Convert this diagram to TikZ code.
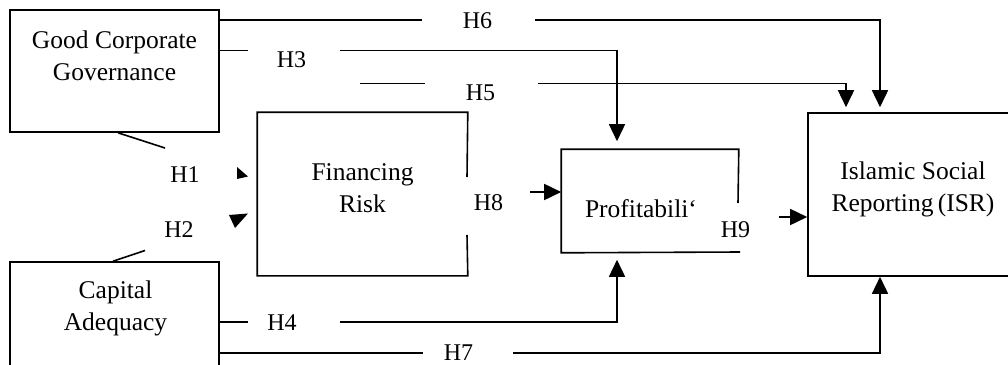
\documentclass[tikz,border=0pt]{standalone}
\usepackage{fontspec}
\setmainfont{Liberation Serif}
\usetikzlibrary{arrows.meta,calc}
\begin{document}
\begin{tikzpicture}[x=1pt,y=-1pt,
  line width=1.6pt,
  box/.style={draw, line width=1.6pt, inner sep=0pt, minimum width=#1},
  ghost/.style={inner sep=0pt, minimum width=#1},
  boxtext/.style={font=\fontsize{25.5}{32}\selectfont, align=center, inner sep=0pt, anchor=base},
  hlabel/.style={font=\fontsize{24}{28}\selectfont, inner sep=0pt, anchor=base},
  arr/.style={-{Triangle[length=17pt,width=16pt]}}]
\useasboundingbox (0,0) rectangle (1008,364);
\clip (0,0) rectangle (1008,364);
% boxes
\node[box=209pt, minimum height=122pt] (gcg) at (114.5,71) {};
\node[box=209pt, minimum height=116pt] (ca) at (114.5,320) {};
\node[ghost=209pt, minimum height=162pt] (fr) at (362.5,194) {};
\node[ghost=176pt, minimum height=102pt] (pr) at (650,201) {};
\node[box=202pt, minimum height=163pt] (isr) at (909,194.5) {};
% partial borders
\coordinate (frg1) at (467,177);
\coordinate (frg2) at (467,235);
\draw (frg1) -- (fr.north east) -- (fr.north west) -- (fr.south west) -- (fr.south east) -- (frg2);
\coordinate (prg1) at (738,203);
\coordinate (prg2) at (740,252);
\draw (prg1) -- (pr.north east) -- (pr.north west) -- (pr.south west) -- (prg2);
% texts (base anchor = baseline of last line)
\node[boxtext] (gcgt) at (114.5,80) {Good Corporate\\Governance};
\node[boxtext] (cat) at (115.5,330) {Capital\\Adequacy};
\node[boxtext] (frt) at (362.5,212) {Financing\\Risk};
\node[boxtext] (prt) at (641,217) {Profitabili‘};
\node[boxtext] (isrt) at (913,211) {Islamic Social\\Reporting\,(ISR)};
% labels
\node[hlabel] (h6) at (477.5,28) {H6};
\node[hlabel] (h3) at (291.5,67) {H3};
\node[hlabel] (h5) at (480.5,100) {H5};
\node[hlabel] (h1) at (185,182) {H1};
\node[hlabel] (h2) at (179,237) {H2};
\node[hlabel] (h8) at (488.5,210) {H8};
\node[hlabel] (h9) at (735.5,237) {H9};
\node[hlabel] (h4) at (282,330) {H4};
\node[hlabel] (h7) at (458.5,360) {H7};
% helper coordinates
\coordinate (y20) at (0,20);
\coordinate (y50) at (0,50.5);
\coordinate (y322) at (0,322);
\coordinate (y353) at (0,353);
\coordinate (y192) at (0,192);
\coordinate (y217) at (0,217);
\coordinate (x880) at (880,0);
\coordinate (x846) at (846,0);
\coordinate (x617) at (617,0);
% H6
\coordinate (h6a) at (422,20);
\coordinate (h6b) at (535,20);
\draw (gcg.east |- y20) -- (h6a);
\draw[arr, shorten >=5pt] (h6b) -| (x880 |- isr.north);
% H3
\coordinate (h3a) at (248,50.5);
\coordinate (h3b) at (340,50.5);
\draw (gcg.east |- y50) -- (h3a);
\draw[arr, shorten >=8pt] (h3b) -| (x617 |- pr.north);
% H5
\coordinate (h5a) at (360,83.5);
\coordinate (h5b) at (425,83.5);
\coordinate (h5c) at (538,83.5);
\draw (h5a) -- (h5b);
\draw[arr, shorten >=5pt] (h5c) -| (x846 |- isr.north);
% H4
\coordinate (h4a) at (248,322);
\coordinate (h4b) at (340,322);
\draw (ca.east |- y322) -- (h4a);
\draw[arr, shorten >=7pt] (h4b) -| (x617 |- pr.south);
% H7
\coordinate (h7a) at (423,353);
\coordinate (h7b) at (513,353);
\draw (ca.east |- y353) -- (h7a);
\draw[arr] (h7b) -| (x880 |- isr.south);
% H8, H9
\coordinate (h8a) at (530,192);
\draw[arr] (h8a) -- (pr.west |- y192);
\coordinate (h9a) at (779,217);
\draw[arr] (h9a) -- (isr.west |- y217);
% H1
\coordinate (h1x) at (118,0);
\coordinate (h1a) at (165,148);
\draw (h1x |- gcg.south) -- (h1a);
\fill (237,167) -- (248,176.5) -- (237,179) -- cycle;
% H2
\coordinate (h2x) at (113,0);
\coordinate (h2a) at (145,250.5);
\draw (h2x |- ca.north) -- (h2a);
\fill (229,215) -- (248,213.5) -- (235,228) -- cycle;
\end{tikzpicture}
\end{document}
